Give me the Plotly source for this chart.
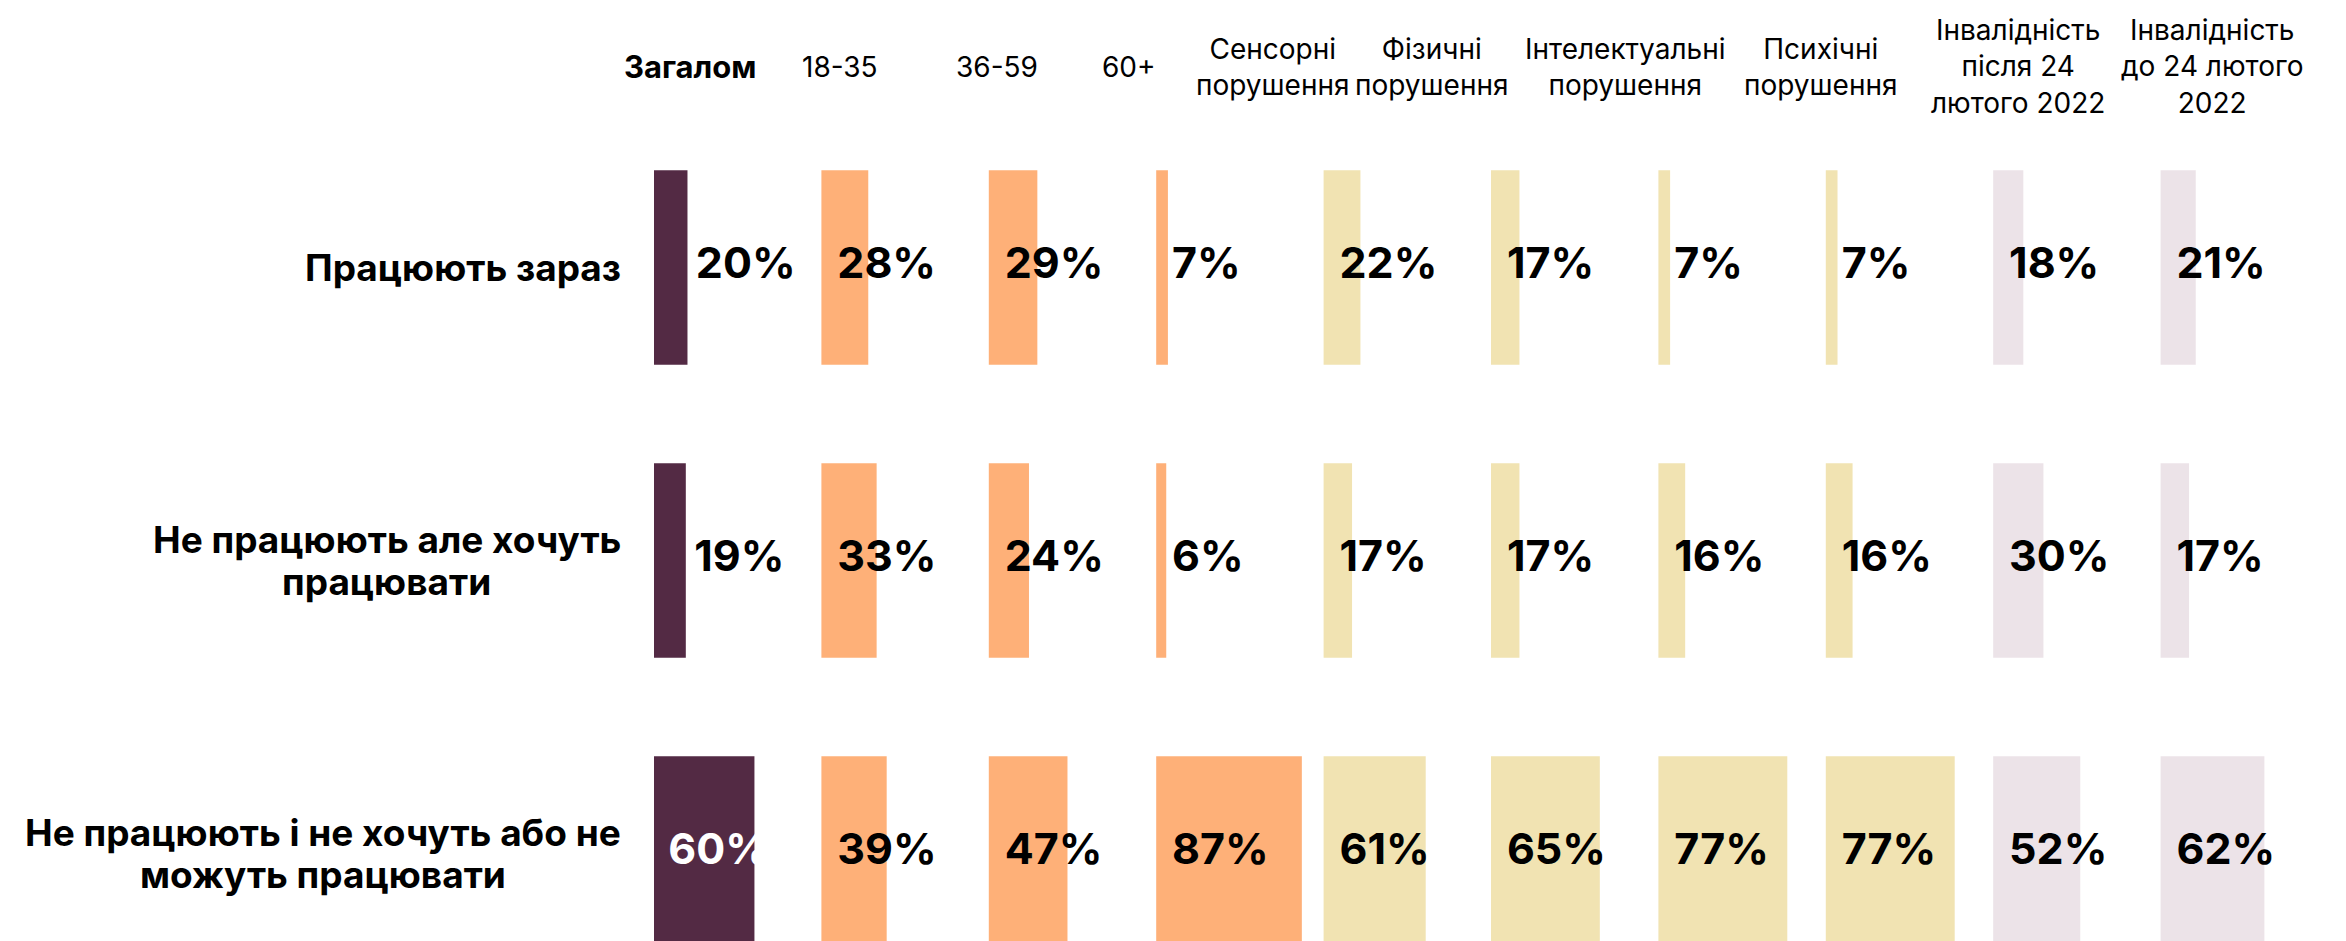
import plotly.graph_objects as go

# ---- data ----
groups = ["Загалом", "18-35", "36-59", "60+", "Сенсорні<br>порушення", "Фізичні<br>порушення",
          "Інтелектуальні<br>порушення", "Психічні<br>порушення",
          "Інвалідність<br>після 24<br>лютого 2022", "Інвалідність<br>до 24 лютого<br>2022"]
rows = ["Працюють зараз", "Не працюють але хочуть<br>працювати",
        "Не працюють і не хочуть або не<br>можуть працювати"]
working_now = [20, 28, 29, 7, 22, 17, 7, 7, 18, 21]
not_working_want = [19, 33, 24, 6, 17, 17, 16, 16, 30, 17]
not_working_cant = [60, 39, 47, 87, 61, 65, 77, 77, 52, 62]
series = [working_now, not_working_want, not_working_cant]

# ---- styles / layout ----
group_colors = ["#532A44", "#FEB078", "#FEB078", "#FEB078", "#F1E3B2", "#F1E3B2",
                "#F1E3B2", "#F1E3B2", "#ECE3E8", "#ECE3E8"]
col_step = 100            # x-units between group columns
header_x = [22, 111, 205, 284, 370, 465, 580, 697, 815, 931]
W, H = 2346, 941
ML, MT = 646, 113
PX_PER_UNIT = 1.674
ROW_PX = 293
FONT = "Inter"
LABEL_SIZE = 37
LABEL_LINE_PX = 42

fig = go.Figure()
for gi, g in enumerate(groups):
    vals = [s[gi] for s in series]
    fig.add_trace(go.Bar(
        y=list(range(len(rows))), x=vals, base=[gi * col_step] * len(rows),
        orientation="h", width=0.664, marker=dict(color=group_colors[gi], line=dict(width=0)),
        showlegend=False, hoverinfo="skip"))
    tx, tc = [], []
    for v in vals:
        if gi == 0 and v < 50:
            tx.append(gi * col_step + v + 5)
            tc.append("#000000")
        elif gi == 0:
            tx.append(gi * col_step + 8.5)
            tc.append("#FFFFFF")
        else:
            tx.append(gi * col_step + 9.5)
            tc.append("#000000")
    fig.add_trace(go.Scatter(
        x=tx, y=list(range(len(rows))), mode="text", text=[f"{v}%" for v in vals],
        textposition="middle right", textfont=dict(family=FONT, size=43, color=tc, weight=700),
        showlegend=False, hoverinfo="skip", cliponaxis=False))

plot_w = W - ML
plot_h = H - MT
x_max = plot_w / PX_PER_UNIT
y_bottom = -0.5 + plot_h / ROW_PX

for ri, r in enumerate(rows):
    lines = r.split("<br>")
    n = len(lines)
    widest = max(len(l) for l in lines)
    for li, line in enumerate(lines):
        shift = ((n - 1) / 2 - li) * LABEL_LINE_PX
        # centre each line under the widest line, block right-aligned at the label edge
        fig.add_annotation(x=0, y=ri, xref="x", yref="y", text=f"<b>{line}</b>", showarrow=False,
                           xanchor="right", yanchor="middle", align="center", xshift=-31,
                           yshift=shift, font=dict(family=FONT, size=LABEL_SIZE, color="#000000"),
                           name=f"row{ri}_{li}")

hdr_y = 1 + (MT - 59) / plot_h
for gi, g in enumerate(groups):
    txt = f"<b>{g}</b>" if gi == 0 else g
    fig.add_annotation(x=header_x[gi], y=hdr_y, xref="x", yref="paper", text=txt, showarrow=False,
                       xanchor="center", yanchor="middle", align="center",
                       font=dict(family=FONT, size=31 if gi == 0 else 28, color="#000000"))

fig.update_layout(
    width=W, height=H, margin=dict(l=ML, r=0, t=MT, b=0, pad=0),
    plot_bgcolor="#FFFFFF", paper_bgcolor="#FFFFFF", barmode="overlay",
    xaxis=dict(range=[0, x_max], visible=False, fixedrange=True),
    yaxis=dict(range=[y_bottom, -0.5], visible=False, fixedrange=True),
)

# centre shorter lines of multi-line row labels under the first (widest) line
fig.write_html("out.html", include_plotlyjs=True, post_script="""
var gd = document.getElementsByClassName('plotly-graph-div')[0];
function centreLabels(){
  var anns = gd.querySelectorAll('.annotation');
  var groups = {};
  anns.forEach(function(a, i){
    var idx = parseInt(a.getAttribute('data-index'));
    var ann = gd.layout.annotations[idx];
    if(!ann || !ann.name || ann.name.indexOf('row') !== 0) return;
    var key = ann.name.split('_')[0];
    (groups[key] = groups[key] || []).push({el: a, ann: ann, idx: idx});
  });
  var upd = {};
  Object.keys(groups).forEach(function(k){
    var g = groups[k];
    if(g.length < 2) return;
    var widths = g.map(function(o){ return o.el.querySelector('text').getBBox().width; });
    var maxW = Math.max.apply(null, widths);
    g.forEach(function(o, j){
      upd['annotations[' + o.idx + '].xshift'] = -31 - (maxW - widths[j]) / 2;
    });
  });
  if(Object.keys(upd).length) Plotly.relayout(gd, upd);
}
setTimeout(centreLabels, 50);
""")
